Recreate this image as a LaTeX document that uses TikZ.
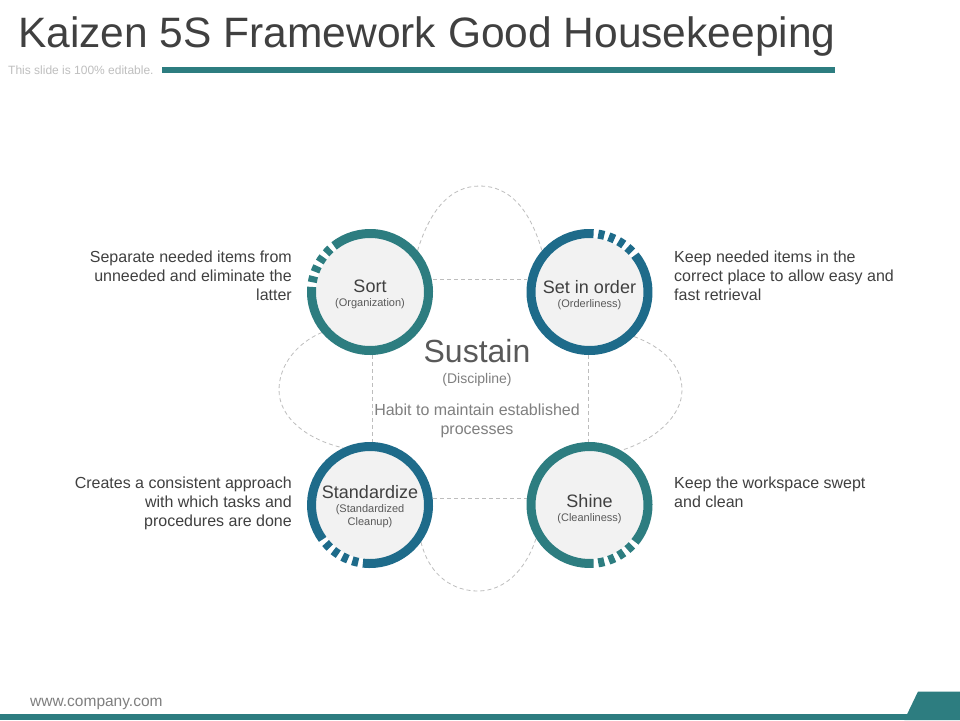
\documentclass[tikz,border=0pt]{standalone}
\usepackage{fontspec}
\setmainfont{Liberation Sans}
\definecolor{teal5}{HTML}{2D7D80}
\definecolor{blue5}{HTML}{1E6B8A}
\definecolor{inner5}{HTML}{F2F2F2}
\definecolor{txt5}{HTML}{404040}
\definecolor{sub5}{HTML}{595959}
\definecolor{lite5}{HTML}{7F7F7F}
\definecolor{pale5}{HTML}{BFBFBF}
\definecolor{dash5}{HTML}{BDBDBD}
\newcommand\kzring[4]{%
  \draw[line width=9pt,#2] (#1.center) ++(#3:58.5) arc[start angle=#3,end angle=#4,radius=58.5];
  \foreach \k in {0,1,2,3}{%
    \pgfmathsetmacro\kzang{#4+4.6+\k*10.6}
    \draw[line width=9pt,#2] (#1.center) ++(\kzang:58.5) arc[start angle=\kzang,delta angle=6,radius=58.5];
  }%
}
\begin{document}
\begin{tikzpicture}[x=1pt,y=1pt,
  circ/.style={circle,fill=inner5,minimum size=108pt,inner sep=0pt,outer sep=9pt,
    align=center,text=txt5,font=\fontsize{11}{13.5}\selectfont},
  conn/.style={draw=dash5,line width=0.8pt,dash pattern=on 4pt off 3pt},
  desc/.style={inner sep=0pt,text=txt5,font=\fontsize{16}{19}\selectfont},
]
\useasboundingbox (0,0) rectangle (960,-720);
\fill[white] (0,0) rectangle (960,-720);

% header
\node[anchor=base west,inner sep=0pt,text=txt5,font=\fontsize{42.5}{48}\selectfont] (title) at (18,-47.5) {Kaizen 5S Framework Good Housekeeping};
\node[anchor=base west,inner sep=0pt,text=pale5,font=\fontsize{12}{14}\selectfont] (sub) at (8,-74.3) {This slide is 100\% editable.};
\fill[teal5] (162,-66.7) rectangle (835,-72.7);

% footer
\node[anchor=base west,inner sep=0pt,text=lite5,font=\fontsize{15.5}{18}\selectfont] (web) at (30,-706.5) {www.company.com};
\fill[teal5] (0,-714) rectangle (960,-720);
\fill[teal5] (918,-691.5) -- (960,-691.5) -- (960,-720) -- (904.3,-720) -- cycle;

% circles
\node[circ] (sort) at (370,-292) {{\fontsize{18}{18}\selectfont\rule{0pt}{17pt}Sort}\\{\color{sub5}(Organization)}};
\node[circ] (set) at (589.5,-292) {{\fontsize{18}{18}\selectfont\rule{0pt}{19pt}Set in order}\\{\color{sub5}(Orderliness)}};
\node[circ] (std) at (370,-505) {{\fontsize{18}{18}\selectfont\rule{0pt}{17pt}Standardize}\\{\color{sub5}(Standardized}\\{\color{sub5}Cleanup)}};
\node[circ] (shine) at (589.5,-505) {{\fontsize{18}{18}\selectfont\rule{0pt}{21pt}Shine}\\{\color{sub5}(Cleanliness)}};

% lobe tips
\coordinate (toptip) at (480,-186);
\coordinate (bottip) at (478,-591);
\coordinate (lefttip) at (279,-390);
\coordinate (righttip) at (682,-390);

% connectors
\draw[conn] ([yshift=13pt]sort.east) -- ([yshift=13pt]set.west);
\draw[conn] ([yshift=7pt]std.east) -- ([yshift=7pt]shine.west);
\draw[conn] ([xshift=2pt]sort.south) -- ([xshift=2pt]std.north);
\draw[conn] ([xshift=-1.5pt]set.south) -- ([xshift=-1.5pt]shine.north);

\draw[conn] (sort.41) .. controls (430,-210) and (450,-186) .. (toptip)
  .. controls (510,-186) and (530,-210) .. (set.139);
\draw[conn] (std.-36) .. controls (430,-578) and (455,-591) .. (bottip)
  .. controls (503,-591) and (525,-572) .. (shine.-148);
\draw[conn] (sort.220) .. controls (297,-343) and (279,-365) .. (lefttip)
  .. controls (279,-418) and (308,-440) .. (std.115);
\draw[conn] (set.-45) .. controls (662,-347) and (682,-365) .. (righttip)
  .. controls (682,-418) and (652,-441) .. (shine.60);

% rings
\kzring{sort}{teal5}{175}{488}
\kzring{set}{blue5}{86}{399}
\kzring{std}{blue5}{263}{576}
\kzring{shine}{teal5}{321}{634}

% centre
\node[anchor=base,inner sep=0pt,text=sub5,font=\fontsize{32}{36}\selectfont] (sustain) at (477,-362.5) {Sustain};
\node[anchor=base,inner sep=0pt,text=lite5,font=\fontsize{14}{16}\selectfont] (disc) at (477,-383) {(Discipline)};
\node[anchor=north,inner sep=0pt,align=center,text=lite5,font=\fontsize{16}{19}\selectfont] (habit) at (477,-403.2) {Habit to maintain established\\processes};

% descriptions
\node[desc,anchor=north east,align=right] (sortd) at (292,-250.5) {Separate needed items from\\unneeded and eliminate the\\latter};
\node[desc,anchor=north west,align=left] (setd) at (674,-250.5) {Keep needed items in the\\correct place to allow easy and\\fast retrieval};
\node[desc,anchor=north east,align=right] (stdd) at (292,-476.5) {Creates a consistent approach\\with which tasks and\\procedures are done};
\node[desc,anchor=north west,align=left] (shined) at (674,-476.5) {Keep the workspace swept\\and clean};
\end{tikzpicture}
\end{document}
